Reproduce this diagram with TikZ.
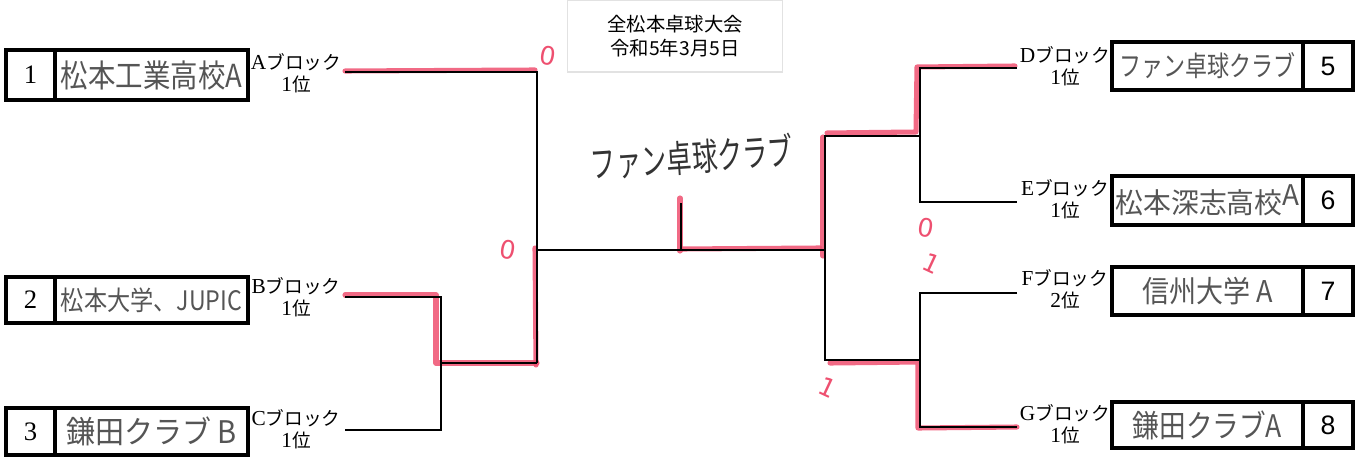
\documentclass[tikz,border=0pt]{standalone}
\usepackage{graphicx}
\usepackage{fontspec}
\setmainfont{Liberation Serif}
\newfontfamily\jp{Noto Sans CJK JP}
\newfontfamily\arialf{Liberation Sans}
\newfontfamily\dejav{DejaVu Sans}
\newcommand{\hwtext}[3]{\resizebox{#1}{#2}{\jp #3}}
\newcommand{\jpl}[1]{{\jp\fontsize{14}{16.5}\selectfont #1}}
\definecolor{markred}{HTML}{EE5070}
\definecolor{pencil}{HTML}{555555}
\definecolor{titlegray}{HTML}{E2E2E2}
\begin{document}
\begin{tikzpicture}[x=0.75pt,y=-0.75pt,
  numcell/.style={draw, line width=2.6pt, inner sep=0pt},
  namecell/.style={draw, line width=2.6pt, inner sep=0pt, text=pencil},
  lbl/.style={align=center, inner sep=0pt, font=\fontsize{16}{16.5}\selectfont},
  br/.style={line width=1.4pt, black, line join=miter},
  redm/.style={draw=markred, line width=3.8pt, opacity=0.85, line cap=round, line join=round},
  score/.style={text=markred, inner sep=0pt, font=\dejav\fontsize{19}{19}\selectfont}]
\useasboundingbox (0,0) rectangle (1364,457);

% title
\node[draw=titlegray, line width=0.8pt, minimum width=161pt, minimum height=54pt,
      align=center, font=\jp\fontsize{14.5}{17.5}\selectfont] (title) at (675,36)
      {全松本卓球大会\\令和5年3月5日};

% red markings (under the black lines)
\draw[redm] (345,71) -- (535,70);
\draw[redm] (535,248) -- (536,365);
\draw[redm] (345,295) -- (436,295) -- (436,363) -- (537,363);
\draw[redm] (680,198) -- (680,251);
\draw[redm] (682,249) -- (820,248);
\draw[redm] (823,137) -- (823,256);
\draw[redm] (827,133) -- (916,132) -- (917,67) -- (1015,66);
\draw[redm] (830,363) -- (918,362) -- (918,428) -- (1017,427);

% left teams
\node[numcell, minimum width=36.75pt, minimum height=37.5pt, font=\fontsize{20}{22}\selectfont] (n1) at (30.5,75) {1};
\node[namecell, minimum width=144.75pt, minimum height=37.5pt] (t1) at (151.5,75) {\hwtext{136pt}{20pt}{松本工業高校A}};
\node[numcell, minimum width=36.75pt, minimum height=34.5pt, font=\fontsize{20}{22}\selectfont] (n2) at (30.5,300) {2};
\node[namecell, minimum width=144.75pt, minimum height=34.5pt] (t2) at (151.5,300) {\hwtext{136pt}{17pt}{松本大学、JUPIC}};
\node[numcell, minimum width=36.75pt, minimum height=35.25pt, font=\fontsize{20}{22}\selectfont] (n3) at (30.5,431.5) {3};
\node[namecell, minimum width=144.75pt, minimum height=35.25pt] (t3) at (151.5,431.5) {\hwtext{128pt}{20pt}{鎌田クラブ B}};

% right teams
\node[namecell, minimum width=143.25pt, minimum height=36pt] (t5) at (1207.5,66) {\hwtext{132pt}{18pt}{ファン卓球クラブ}};
\node[numcell, minimum width=37.5pt, minimum height=36pt, font=\arialf\fontsize{20}{22}\selectfont] (n5) at (1328,66) {5};
\node[namecell, minimum width=143.25pt, minimum height=36.75pt] (t6) at (1207.5,200.5) {\hwtext{138pt}{22pt}{松本深志高校\raisebox{0.3em}{A}}};
\node[numcell, minimum width=37.5pt, minimum height=36.75pt, font=\arialf\fontsize{20}{22}\selectfont] (n6) at (1328,200.5) {6};
\node[namecell, minimum width=143.25pt, minimum height=36pt] (t7) at (1207.5,291) {\hwtext{98pt}{19pt}{信州大学 A}};
\node[numcell, minimum width=37.5pt, minimum height=36pt, font=\arialf\fontsize{20}{22}\selectfont] (n7) at (1328,291) {7};
\node[namecell, minimum width=143.25pt, minimum height=34.5pt] (t8) at (1207.5,425) {\hwtext{112pt}{20pt}{鎌田クラブA}};
\node[numcell, minimum width=37.5pt, minimum height=34.5pt, font=\arialf\fontsize{20}{22}\selectfont] (n8) at (1328,425) {8};

% block labels
\node[lbl] (la) at (296,73) {A\jpl{ブロック}\\1\jpl{位}};
\node[lbl] (lb) at (296,297) {B\jpl{ブロック}\\1\jpl{位}};
\node[lbl] (lc) at (296,429) {C\jpl{ブロック}\\1\jpl{位}};
\node[lbl] (ld) at (1065,66) {D\jpl{ブロック}\\1\jpl{位}};
\node[lbl] (le) at (1065,199) {E\jpl{ブロック}\\1\jpl{位}};
\node[lbl] (lf) at (1065,289) {F\jpl{ブロック}\\2\jpl{位}};
\node[lbl] (lg) at (1065,424) {G\jpl{ブロック}\\1\jpl{位}};

% bracket coordinates
\coordinate (aA) at (345,72);   \coordinate (jA) at (537,72);
\coordinate (aB) at (345,297);  \coordinate (jB) at (441,297);
\coordinate (aC) at (345,430);  \coordinate (jC) at (441,430);
\coordinate (mBC) at (441,363); \coordinate (mBC2) at (537,363);
\coordinate (mL) at (537,250);  \coordinate (mR) at (825,250);
\coordinate (ch) at (681,203);  \coordinate (chb) at (681,250);
\coordinate (aD) at (1017,68);  \coordinate (jD) at (920,68);
\coordinate (aE) at (1017,202); \coordinate (jE) at (920,202);
\coordinate (mDE) at (920,136); \coordinate (mDE2) at (825,136);
\coordinate (aF) at (1017,293); \coordinate (jF) at (920,293);
\coordinate (aG) at (1017,427); \coordinate (jG) at (920,427);
\coordinate (mFG) at (920,360); \coordinate (mFG2) at (825,360);

% bracket lines
\draw[br] (aA) -- (jA) -- (mBC2);
\draw[br] (aB) -- (jB) -- (jC) -- (aC);
\draw[br] (mBC) -- (mBC2);
\draw[br] (mL) -- (mR);
\draw[br] (ch) -- (chb);
\draw[br] (aD) -- (jD) -- (jE) -- (aE);
\draw[br] (mDE) -- (mDE2) -- (mFG2) -- (mFG);
\draw[br] (aF) -- (jF) -- (jG) -- (aG);

% handwritten winner
\node[text=black!80, inner sep=0pt, rotate=4] (win) at (692,157) {\hwtext{152pt}{24pt}{ファン卓球クラブ}};

% scores
\node[score, rotate=-10] (s1) at (548,56) {0};
\node[score, rotate=-10] (s2) at (508,250) {0};
\node[score, rotate=-10] (s3) at (926,228) {0};
\node[score, rotate=-25] (s4) at (932,264) {1};
\node[score, rotate=-25] (s5) at (828,388) {1};
\end{tikzpicture}
\end{document}
